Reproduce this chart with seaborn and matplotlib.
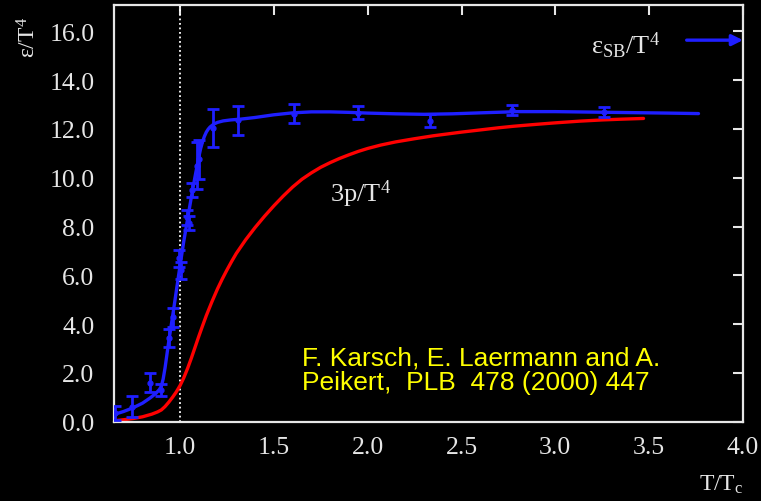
import numpy as np
import pandas as pd
import matplotlib
matplotlib.use("Agg")
import matplotlib.pyplot as plt
import seaborn as sns

# ---- data ----
# lattice data points (energy density) with errors
pt_x = [0.653, 0.743, 0.84, 0.897, 0.943, 0.961, 0.995, 1.005, 1.039, 1.046, 1.062,
        1.09, 1.10, 1.178, 1.311, 1.608, 1.947, 2.333, 2.768, 3.262]
pt_y = [0.36, 0.62, 1.6, 1.3, 3.43, 4.28, 6.7, 6.2, 8.38, 8.15, 9.5,
        10.5, 10.75, 12.05, 12.36, 12.63, 12.66, 12.34, 12.77, 12.7]
pt_err = [0.3, 0.42, 0.4, 0.25, 0.37, 0.4, 0.35, 0.35, 0.3, 0.3, 0.3,
          0.95, 0.8, 0.78, 0.6, 0.4, 0.27, 0.27, 0.2, 0.2]

# smooth energy density curve (blue)
eps_x = [0.65, 0.70, 0.75, 0.80, 0.84, 0.87, 0.89, 0.90, 0.91, 0.92, 0.93, 0.94,
         0.95, 0.96, 0.98, 1.00, 1.02, 1.04, 1.06, 1.08, 1.10, 1.11, 1.12, 1.13,
         1.14, 1.15, 1.16, 1.18, 1.20, 1.23, 1.27, 1.32, 1.40, 1.50, 1.60, 1.70,
         1.80, 1.90, 2.00, 2.15, 2.30, 2.45, 2.60, 2.80, 3.00, 3.20, 3.40, 3.60, 3.763]
eps_y = [0.30, 0.42, 0.57, 0.76, 0.97, 1.15, 1.32, 1.45, 1.75, 2.20, 2.75, 3.30,
         3.80, 4.30, 5.35, 6.40, 7.40, 8.30, 9.20, 10.05, 10.85, 11.20, 11.48, 11.70,
         11.87, 11.99, 12.08, 12.20, 12.27, 12.33, 12.37, 12.40, 12.47, 12.58, 12.66, 12.70,
         12.70, 12.68, 12.65, 12.62, 12.60, 12.62, 12.66, 12.71, 12.71, 12.69, 12.67, 12.65, 12.63]

# pressure curve 3p/T^4 (red)
p_x = [0.65, 0.70, 0.75, 0.80, 0.85, 0.88, 0.90, 0.92, 0.94, 0.96, 0.98, 1.00,
       1.02, 1.04, 1.06, 1.08, 1.10, 1.12, 1.14, 1.17, 1.20, 1.225, 1.25, 1.275,
       1.30, 1.35, 1.40, 1.45, 1.50, 1.55, 1.60, 1.65, 1.70, 1.75, 1.80, 1.85,
       1.90, 1.95, 2.00, 2.07, 2.15, 2.25, 2.35, 2.42, 2.50, 2.60, 2.70, 2.777,
       2.90, 3.00, 3.13, 3.25, 3.35, 3.47]
p_y = [0.04, 0.08, 0.13, 0.20, 0.31, 0.40, 0.48, 0.62, 0.80, 1.00, 1.22, 1.48,
       1.80, 2.18, 2.60, 3.05, 3.50, 3.93, 4.35, 4.92, 5.45, 5.85, 6.22, 6.57,
       6.90, 7.46, 7.96, 8.42, 8.85, 9.25, 9.62, 9.94, 10.20, 10.43, 10.62, 10.79,
       10.94, 11.08, 11.20, 11.34, 11.47, 11.60, 11.72, 11.79, 11.87, 11.96, 12.05, 12.11,
       12.19, 12.25, 12.32, 12.37, 12.40, 12.43]

x_ticks = [1.0, 1.5, 2.0, 2.5, 3.0, 3.5, 4.0]
y_ticks = [0.0, 2.0, 4.0, 6.0, 8.0, 10.0, 12.0, 14.0, 16.0]
sb_level = 15.64
citation = "F. Karsch, E. Laermann and A.\nPeikert,  PLB  478 (2000) 447"

# ---- styling ----
sns.set_style("dark")
plt.rcParams["font.family"] = ["Liberation Serif", "DejaVu Serif"]
plt.rcParams["mathtext.fontset"] = "stix"

BLUE = "#1f1fff"
RED = "#ff0000"
FG = "#e6e6e6"

fig = plt.figure(figsize=(7.61, 5.02), dpi=100, facecolor="black")
ax = fig.add_axes([0.1498, 0.158, 0.9763 - 0.1498, 0.988 - 0.158])
ax.set_facecolor("black")
ax.grid(False)

eps_df = pd.DataFrame({"x": eps_x, "y": eps_y})
p_df = pd.DataFrame({"x": p_x, "y": p_y})

sns.lineplot(data=p_df, x="x", y="y", color=RED, lw=2.4, ax=ax, sort=True)
sns.lineplot(data=eps_df, x="x", y="y", color=BLUE, lw=2.4, ax=ax, sort=True)
ax.errorbar(pt_x, pt_y, yerr=pt_err, fmt="o", ms=3.5, color=BLUE, ecolor=BLUE,
            elinewidth=2.0, capsize=4, capthick=2.0, zorder=5)

# T = Tc dotted line
ax.axvline(1.0, color="white", ls=(0, (1, 1.5)), lw=1.3, zorder=1)

# SB limit arrow
ax.annotate("", xy=(4.0, sb_level), xytext=(3.70, sb_level),
            arrowprops=dict(arrowstyle="-|>", color=BLUE, lw=2.4,
                            mutation_scale=16, shrinkA=0, shrinkB=0))
ax.text(3.56, sb_level - 0.2, r"$\mathregular{\varepsilon_{SB}/T^4}$", color=FG,
        fontsize=19, ha="right", va="center")
ax.text(1.80, 9.05, r"$\mathregular{3p/T^4}$", color=FG, fontsize=19,
        ha="left", va="baseline")
ax.text(1.65, 2.12, citation, color="#ffff00", fontsize=19,
        family=["Liberation Sans", "DejaVu Sans"], ha="left", va="center",
        linespacing=1.0)

ax.set_xlim(0.648, 4.0)
ax.set_ylim(0, 17.08)
ax.set_xticks(x_ticks)
ax.set_xticklabels([f"{v:.1f}" for v in x_ticks])
ax.set_yticks(y_ticks)
ax.set_yticklabels([f"{v:.1f}" for v in y_ticks])
ax.tick_params(axis="both", direction="in", length=7, width=1.5, color=FG,
               labelcolor=FG, labelsize=18.5, top=True, right=True,
               labeltop=False, labelright=False)
ax.tick_params(axis="y", pad=14)
ax.tick_params(axis="x", pad=10)
for s in ax.spines.values():
    s.set_visible(True)
    s.set_color(FG)
    s.set_linewidth(1.6)

ax.set_xlabel("")
ax.set_ylabel("")
fig.text(0.038, 0.925, r"$\mathregular{\varepsilon/T^4}$", color=FG, fontsize=17,
         rotation=90, ha="center", va="center")
fig.text(0.948, 0.035, r"$\mathregular{T/T_c}$", color=FG, fontsize=17,
         ha="center", va="center")

fig.savefig("out.png", dpi=100, facecolor="black")
